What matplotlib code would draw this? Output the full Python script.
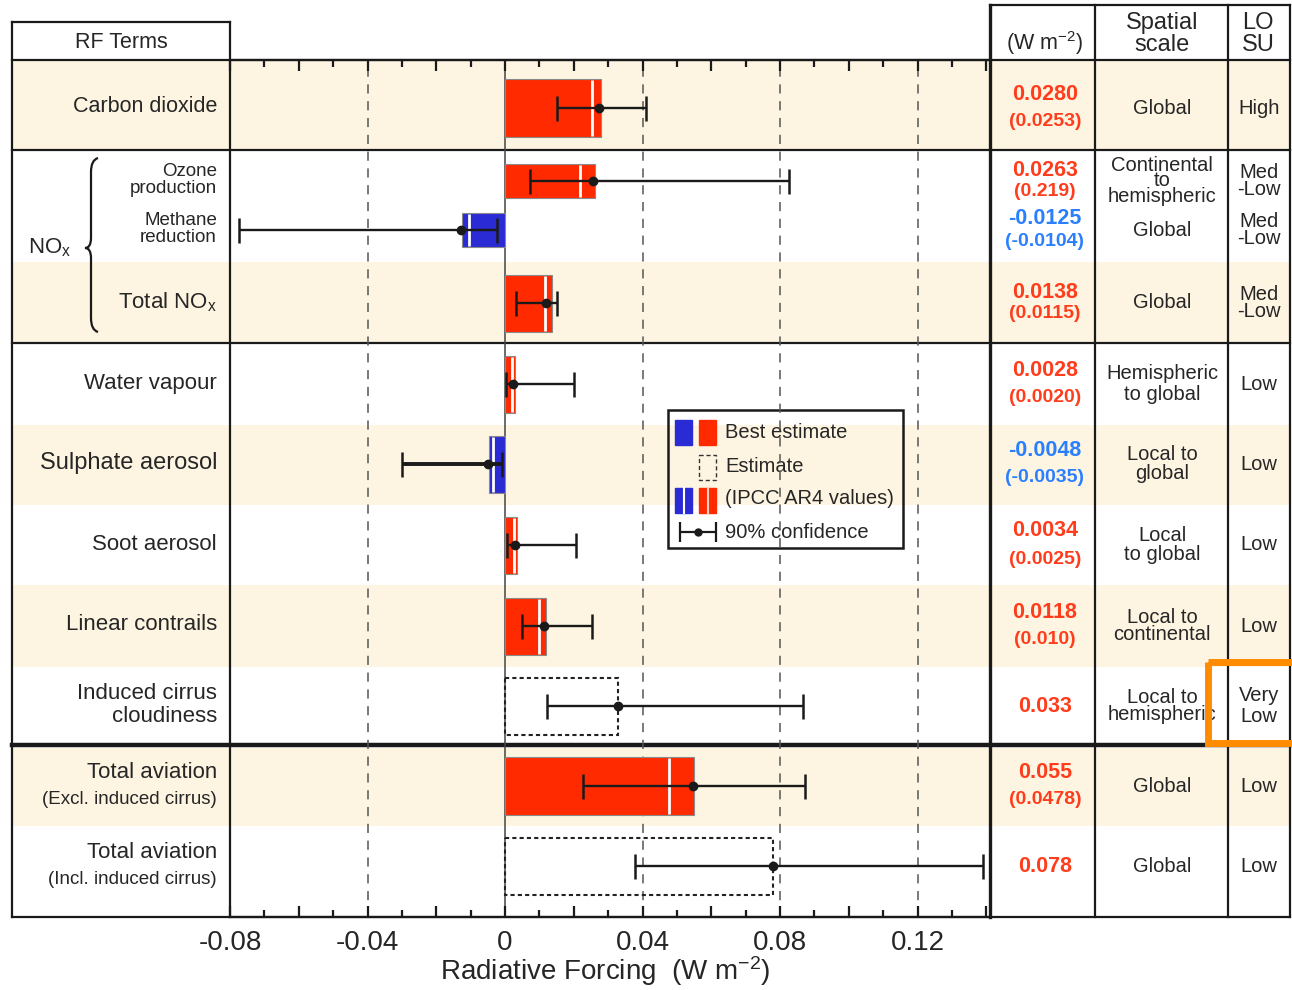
import numpy as np
import matplotlib
matplotlib.use("Agg")
import matplotlib.pyplot as plt
from matplotlib.patches import Rectangle, PathPatch
from matplotlib.path import Path

plt.rcParams['font.family'] = ['Liberation Sans', 'DejaVu Sans']
plt.rcParams['mathtext.default'] = 'regular'

# ---- data ----
terms = ['Carbon dioxide', 'Ozone\nproduction', 'Methane\nreduction', 'Total NO$_x$',
         'Water vapour', 'Sulphate aerosol', 'Soot aerosol', 'Linear contrails',
         'Induced cirrus\ncloudiness', 'Total aviation', 'Total aviation']
sub_terms = ['', '', '', '', '', '', '', '', '', '(Excl. induced cirrus)', '(Incl. induced cirrus)']
best = [0.0280, 0.0263, -0.0125, 0.0138, 0.0028, -0.0048, 0.0034, 0.0118, 0.033, 0.055, 0.078]
ar4 = [0.0253, 0.0219, -0.0104, 0.0115, 0.0020, -0.0035, 0.0025, 0.010, np.nan, 0.0478, np.nan]
estimate_only = [False] * 8 + [True, False, True]
dot = [0.0273, 0.0256, -0.0128, 0.0119, 0.0024, -0.0049, 0.0029, 0.0113, 0.0329, 0.0547, 0.078]
err_lo = [0.0152, 0.0073, -0.0774, 0.0032, 0.0004, -0.0300, 0.0006, 0.0050, 0.0122, 0.0227, 0.0378]
err_hi = [0.0410, 0.0826, -0.0023, 0.0151, 0.0200, -0.0008, 0.0207, 0.0253, 0.0867, 0.0873, 0.1390]
val_txt = ['0.0280', '0.0263', '-0.0125', '0.0138', '0.0028', '-0.0048', '0.0034', '0.0118',
           '0.033', '0.055', '0.078']
ar4_txt = ['(0.0253)', '(0.219)', '(-0.0104)', '(0.0115)', '(0.0020)', '(-0.0035)', '(0.0025)',
           '(0.010)', '', '(0.0478)', '']
spatial = ['Global', 'Continental\nto\nhemispheric', 'Global', 'Global', 'Hemispheric\nto global',
           'Local to\nglobal', 'Local\nto global', 'Local to\ncontinental', 'Local to\nhemispheric',
           'Global', 'Global']
losu = ['High', 'Med\n-Low', 'Med\n-Low', 'Med\n-Low', 'Low', 'Low', 'Low', 'Low', 'Very\nLow', 'Low', 'Low']
xticks = [-0.08, -0.04, 0, 0.04, 0.08, 0.12]
xtick_labels = ['-0.08', '-0.04', '0', '0.04', '0.08', '0.12']

# ---- layout (pixels) ----
W, H = 1292, 990
row_y = [108, 181, 230, 303, 384, 464, 545, 626, 706, 786, 866]
bar_h = [58, 34, 34, 57, 57, 57, 57, 57, 57, 58, 57]
label_fs = [15.5, 13.5, 13.5, 16, 16, 17, 16, 16, 16, 16, 16]
spatial_ls = [1, 0.78, 1, 1, 1.15, 1.0, 0.95, 0.9, 0.9, 1, 1]
beige = [(60, 150), (262, 343), (425, 505), (585, 667), (748, 826)]
RED, BLUE = '#ff2a00', '#2b2bd6'
RED_T, BLUE_T = '#ff3d1c', '#2a7fff'
TXT = '#262626'

fig = plt.figure(figsize=(W / 100, H / 100), dpi=100)
bg = fig.add_axes([0, 0, 1, 1])
bg.set_xlim(0, W)
bg.set_ylim(H, 0)
bg.axis('off')

for y0, y1 in beige:
    bg.add_patch(Rectangle((12, y0), 1278, y1 - y0, color='#fdf5e1', lw=0, zorder=0))

# table lines
lk = dict(color='#1a1a1a', lw=1.6, zorder=3)
bg.plot([12, 230], [22, 22], **lk)
bg.plot([990, 1290], [5, 5], **lk)
for y in [60, 150, 343, 917]:
    bg.plot([12, 1290], [y, y], **lk)
bg.plot([12, 1290], [745, 745], color='#1a1a1a', lw=3.2, zorder=3)
bg.plot([12, 12], [22, 917], **lk)
bg.plot([230, 230], [22, 917], **lk)
bg.plot([990, 990], [5, 917], color='#1a1a1a', lw=2.4, zorder=3)
for x in [1095, 1228, 1290]:
    bg.plot([x, x], [5, 917], **lk)

# headers
bg.text(121, 42, 'RF Terms', ha='center', va='center', fontsize=15.5, color=TXT)
bg.text(1045, 43, '(W m$^{-2}$)', ha='center', va='center', fontsize=15.5, color=TXT)
bg.text(1162, 34, 'Spatial\nscale', ha='center', va='center', fontsize=17, color=TXT, linespacing=0.95)
bg.text(1258, 34, 'LO\nSU', ha='center', va='center', fontsize=17, color=TXT, linespacing=0.95)

# left labels
for i, t in enumerate(terms):
    if sub_terms[i]:
        bg.text(217, row_y[i] - 13, t, ha='right', va='center', fontsize=16, color=TXT)
        bg.text(217, row_y[i] + 13, sub_terms[i], ha='right', va='center', fontsize=13.5, color=TXT)
    else:
        bg.text(217, row_y[i] - 1, t, ha='right', va='center', fontsize=label_fs[i], color=TXT,
                linespacing=1.0 if i in (1, 2) else 1.15)
bg.text(28, 248, 'NO$_x$', ha='left', va='center', fontsize=16, color=TXT)
brace = Path([(98, 158), (91, 160), (91, 172), (91, 238), (91, 248), (85, 248),
              (91, 248), (91, 258), (91, 318), (91, 330), (98, 332)],
             [Path.MOVETO, Path.CURVE3, Path.CURVE3, Path.LINETO, Path.CURVE3, Path.CURVE3,
              Path.CURVE3, Path.CURVE3, Path.LINETO, Path.CURVE3, Path.CURVE3])
bg.add_patch(PathPatch(brace, fill=False, lw=1.6, color='#1a1a1a'))

# right table
for i in range(len(terms)):
    col = BLUE_T if best[i] < 0 else RED_T
    if ar4_txt[i]:
        gap = 14 if i in (0, 4, 5, 6, 7, 9) else 11
        bg.text(1045, row_y[i] - gap, val_txt[i], ha='center', va='center', fontsize=15.5,
                fontweight='bold', color=col)
        bg.text(1045, row_y[i] + gap, ar4_txt[i], ha='center', va='center', fontsize=14,
                fontweight='bold', color=col)
    else:
        bg.text(1045, row_y[i], val_txt[i], ha='center', va='center', fontsize=15.5,
                fontweight='bold', color=col)
    bg.text(1162, row_y[i], spatial[i], ha='center', va='center', fontsize=14.5, color=TXT,
            linespacing=spatial_ls[i])
    bg.text(1259, row_y[i], losu[i], ha='center', va='center', fontsize=14.5, color=TXT,
            linespacing=0.9 if losu[i].startswith('Med') else 1.1)

# legend
bg.add_patch(Rectangle((668, 410), 235, 138, fill=False, lw=1.8, ec='#1a1a1a', zorder=5))
bg.add_patch(Rectangle((675, 420), 17, 25, color=BLUE, zorder=6))
bg.add_patch(Rectangle((699, 420), 17, 25, color=RED, zorder=6))
bg.add_patch(Rectangle((699, 455), 17, 25, fill=False, ec='#333', lw=1, ls=(0, (3, 2)), zorder=6))
bg.add_patch(Rectangle((675, 488), 17, 25, color=BLUE, zorder=6))
bg.add_patch(Rectangle((699, 488), 17, 25, color=RED, zorder=6))
bg.plot([683.5, 683.5], [488, 513], color='white', lw=1.5, zorder=7)
bg.plot([707.5, 707.5], [488, 513], color='#ffd0c0', lw=1.5, zorder=7)
bg.errorbar([698], [532], xerr=[[18], [18]], fmt='o', color='#1a1a1a', ms=5, capsize=7,
            elinewidth=1.6, capthick=1.6, zorder=7)
for ty, tt in zip([432, 467, 499, 532], ['Best estimate', 'Estimate', '(IPCC AR4 values)', '90% confidence']):
    bg.text(725, ty, tt, ha='left', va='center', fontsize=14.5, color=TXT, zorder=7)

# highlight box
bg.add_patch(Rectangle((1208, 662), 90, 81, fill=False, ec='#ff8c00', lw=5, zorder=8))

# axis title
bg.text(605, 971, 'Radiative Forcing  (W m$^{-2}$)', ha='center', va='center', fontsize=20, color=TXT)

# ---- data axes ----
ax = fig.add_axes([230 / W, (H - 917) / H, (990 - 230) / W, (917 - 60) / H])
ax.patch.set_alpha(0)
ax.set_ylim(917, 60)
ax.set_xlim(-0.08, (990 - 230) / 3437.5 - 0.08)
for s in ['left', 'right']:
    ax.spines[s].set_visible(False)
for s in ['top', 'bottom']:
    ax.spines[s].set_linewidth(1.6)
    ax.spines[s].set_color('#1a1a1a')

for v in [-0.04, 0.04, 0.08, 0.12]:
    ax.axvline(v, color='#555555', lw=1.1, ls=(0, (6, 5)), zorder=1)
ax.axvline(0, color='#444444', lw=1.1, zorder=1)

y = np.array(row_y, dtype=float)
h = np.array(bar_h, dtype=float)
b = np.array(best)
solid = ~np.array(estimate_only)
ax.barh(y[solid], b[solid], height=h[solid], color=[BLUE if v < 0 else RED for v in b[solid]],
        edgecolor='#8a8a8a', lw=0.8, zorder=2)
ax.barh(y[~solid], b[~solid], height=h[~solid], fill=False, edgecolor='#222', lw=1.5,
        ls=(0, (2, 1.5)), zorder=2)
a = np.array(ar4)
m = ~np.isnan(a)
ax.vlines(a[m], y[m] - h[m] / 2 + 1, y[m] + h[m] / 2 - 1, color='white', lw=2, zorder=3)

d = np.array(dot)
lo = d - np.array(err_lo)
hi = np.array(err_hi) - d
for i in range(len(d)):
    ax.errorbar(d[i], y[i], xerr=[[lo[i]], [hi[i]]], fmt='o', color='#1a1a1a', ms=6,
                capsize=9, elinewidth=2.8 if i == 5 else 1.7, capthick=1.8, zorder=4)

ax.set_xticks(np.round(np.arange(-0.08, 0.141, 0.02), 2))
ax.set_xticks(np.round(np.arange(-0.07, 0.141, 0.02), 2), minor=True)
ax.set_xticklabels([xtick_labels[xticks.index(t)] if t in xticks else ''
                    for t in np.round(np.arange(-0.08, 0.141, 0.02), 2)])
ax.tick_params(axis='x', which='both', direction='in', top=True, bottom=True, width=1.6,
               color='#1a1a1a', labelsize=20, pad=9, labelcolor=TXT)
ax.tick_params(axis='x', which='major', length=8)
ax.tick_params(axis='x', which='minor', length=5)
ax.set_yticks([])

fig.savefig('out.png', dpi=100)
